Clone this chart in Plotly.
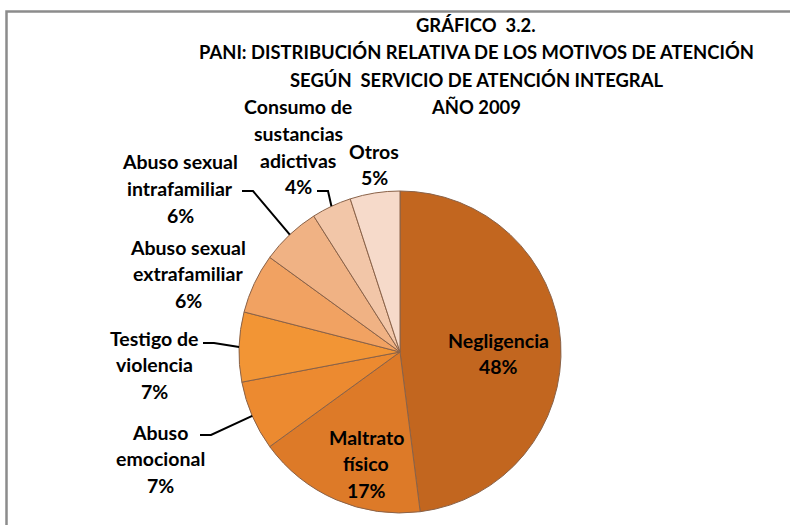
import math
import plotly.graph_objects as go

# ---------------- data ----------------
categories = ["Negligencia", "Maltrato físico", "Abuso emocional", "Testigo de violencia",
              "Abuso sexual extrafamiliar", "Abuso sexual intrafamiliar",
              "Consumo de sustancias adictivas", "Otros"]
label_lines = [["Negligencia"], ["Maltrato", "físico"], ["Abuso", "emocional"],
               ["Testigo de", "violencia"], ["Abuso sexual", "extrafamiliar"],
               ["Abuso sexual", "intrafamiliar"], ["Consumo de", "sustancias", "adictivas"],
               ["Otros"]]
values = [48, 17, 7, 7, 6, 6, 4, 5]
colors = ["#C2661F", "#DD7A28", "#EC8A30", "#F29535", "#F1A262",
          "#F0B284", "#F2C6A8", "#F6DACA"]
title_lines = ["GRÁFICO  3.2.",
               "PANI: DISTRIBUCIÓN RELATIVA DE LOS MOTIVOS DE ATENCIÓN",
               "SEGÚN  SERVICIO DE ATENCIÓN INTEGRAL",
               "AÑO 2009"]

# ---------------- layout geometry (pixels) ----------------
W, H = 790, 525
CX, CY, R = 400, 352, 161
FONT = "Lato"
LINE_STEP = 26.5
TITLE_SIZE = 18.4
LABEL_SIZE = 19.5

def px(x):
    return x / W

def py(y):
    return 1 - y / H

total = sum(values)
mids = []
acc = 0
for v in values:
    mids.append((acc + v / 2) / total * 2 * math.pi)
    acc += v

def polar(ang, r):
    return CX + r * math.sin(ang), CY - r * math.cos(ang)

fig = go.Figure()
fig.add_trace(go.Pie(
    labels=categories, values=values, sort=False, direction="clockwise", rotation=0,
    marker=dict(colors=colors, line=dict(color="#8A6248", width=1)),
    textinfo="none", hoverinfo="label+percent", showlegend=False,
    domain=dict(x=[px(CX - R), px(CX + R)], y=[py(CY + R), py(CY - R)]),
))

annotations = []

def add_text(x, y, text, size):
    annotations.append(dict(x=px(x), y=py(y), xref="paper", yref="paper", text=text,
                            showarrow=False, xanchor="center", yanchor="middle",
                            font=dict(family=FONT, size=size, color="#000000")))

# title
for i, t in enumerate(title_lines):
    add_text(476, 25 + i * 27.3, "<b>%s</b>" % t, TITLE_SIZE)

# inside labels (slice 0 and 1): first-line centre position
inside_pos = {0: (498, 340), 1: (366, 437)}
# outside labels: first-line centre position
outside_pos = {2: (160, 432), 3: (154, 338), 4: (188, 247), 5: (180, 162),
               6: (298, 107), 7: (374, 151)}
for i, (x, y0) in list(inside_pos.items()) + list(outside_pos.items()):
    lines = label_lines[i] + ["%d%%" % round(values[i] / total * 100)]
    for k, ln in enumerate(lines):
        add_text(x, y0 + k * LINE_STEP, "<b>%s</b>" % ln, LABEL_SIZE)

# leader lines: from label anchor to pie edge at slice mid-angle
leader_start = {2: (200, 435), 3: (203, 343), 5: (242, 191), 6: (317, 191)}
shapes = []
for i, (sx, sy) in leader_start.items():
    ex, ey = polar(mids[i], R)
    path = "M %f %f L %f %f L %f %f" % (px(sx), py(sy), px(sx + 11), py(sy), px(ex), py(ey))
    shapes.append(dict(type="path", xref="paper", yref="paper", path=path,
                       line=dict(color="#000000", width=2)))

# frame
shapes.append(dict(type="rect", xref="paper", yref="paper",
                   x0=px(6.5), y0=py(540), x1=px(800), y1=py(11.5),
                   line=dict(color="#8C8C8C", width=2.5)))

fig.update_layout(
    width=W, height=H, margin=dict(l=0, r=0, t=0, b=0),
    paper_bgcolor="#FFFFFF", plot_bgcolor="#FFFFFF",
    annotations=annotations, shapes=shapes,
    font=dict(family=FONT),
)
fig.write_html("out.html", config={"displayModeBar": False},
               post_script="document.body.style.margin='0';document.body.style.overflow='hidden';")
